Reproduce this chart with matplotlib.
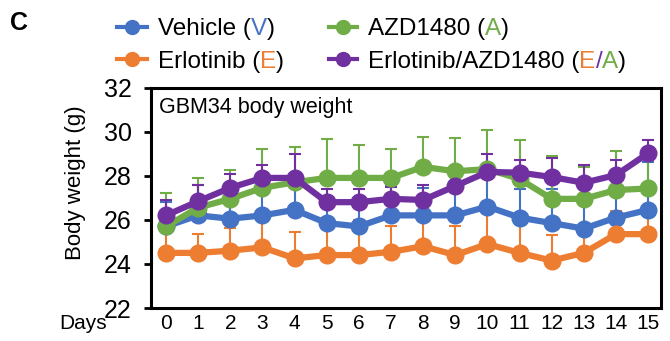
import numpy as np
import matplotlib.pyplot as plt
from matplotlib.lines import Line2D


days = list(range(16))

vehicle = [25.7, 26.2, 26.05, 26.2, 26.45, 25.85, 25.7, 26.2, 26.2, 26.2, 26.6, 26.1, 25.85, 25.6, 26.1, 26.45]
vehicle_top = [26.8, 27.6, 27.1, 27.5, 27.7, 26.9, 26.9, 27.6, 27.45, 27.45, 28.1, 27.4, 27.4, 27.6, 27.9, 28.6]

erlotinib = [24.5, 24.5, 24.6, 24.75, 24.25, 24.4, 24.4, 24.55, 24.8, 24.4, 24.9, 24.5, 24.15, 24.5, 25.35, 25.35]
erlotinib_top = [25.5, 25.35, 25.65, 26.3, 25.45, 26.0, 26.0, 25.7, 25.95, 25.7, 26.3, 25.8, 25.3, 25.6, 26.4, 26.2]

azd = [25.7, 26.55, 26.95, 27.45, 27.7, 27.9, 27.9, 27.9, 28.4, 28.2, 28.3, 27.85, 26.95, 26.95, 27.35, 27.42]
azd_top = [27.22, 27.88, 28.26, 29.2, 29.3, 29.65, 29.4, 29.23, 29.76, 29.73, 30.06, 29.62, 28.9, 28.41, 29.12, 28.9]

combo = [26.2, 26.84, 27.45, 27.9, 27.9, 26.8, 26.8, 26.95, 26.9, 27.53, 28.17, 28.14, 27.94, 27.68, 28.03, 29.02]
combo_top = [26.9, 27.6, 28.06, 28.5, 28.97, 27.4, 27.4, 27.5, 27.6, 28.2, 28.97, 28.71, 28.82, 28.47, 28.71, 29.6]

BLUE = '#4472C4'
ORANGE = '#ED7D31'
GREEN = '#70AD47'
PURPLE = '#7030A0'

plt.rcParams['font.family'] = ['Liberation Sans', 'DejaVu Sans']

W, H = 670, 341
fig = plt.figure(figsize=(W / 100, H / 100), dpi=100)
ax = fig.add_axes([151 / W, 1 - 308 / H, 510 / W, 220.5 / H])

series = [
    (vehicle, vehicle_top, BLUE),
    (erlotinib, erlotinib_top, ORANGE),
    (azd, azd_top, GREEN),
    (combo, combo_top, PURPLE),
]

for i, (mean, top, color) in enumerate(series):
    mean = np.array(mean)
    err = np.array(top) - mean
    ax.errorbar(days, mean, yerr=[np.zeros_like(err), err], fmt='none', ecolor=color,
                elinewidth=1.5, capsize=4.3, capthick=1.5, zorder=1)
for i, (mean, top, color) in enumerate(series):
    ax.plot(days, mean, '-o', color=color, lw=4.5, ms=12, zorder=3 + i)

ax.set_xlim(-0.467, 15.40)
ax.set_ylim(22, 32)
ax.set_yticks([22, 24, 26, 28, 30, 32])
ax.set_xticks(days)
ax.tick_params(axis='y', length=5, width=2, pad=9, labelsize=18, direction='out')
ax.tick_params(axis='x', length=0, pad=4.5, labelsize=15)
for sp in ax.spines.values():
    sp.set_linewidth(2.2)

# text around the axes
fig.text(159 / W, 1 - 113 / H, 'GBM34 body weight', fontsize=15.5, va='baseline')
fig.text(75.5 / W, 1 - 183 / H, 'Body weight (g)', rotation=90, ha='center', va='center', fontsize=16)
fig.text(107 / W, 1 - 314 / H, 'Days', ha='right', va='top', fontsize=15)
fig.text(10 / W, 1 - 30 / H, 'C', fontsize=18, weight='bold', va='baseline')


# legend drawn by hand so the letters in brackets can be coloured
def handle(x0, x1, y, color):
    yf = 1 - y / H
    fig.add_artist(Line2D([x0 / W, x1 / W], [yf, yf], color=color, lw=3))
    fig.add_artist(Line2D([(x0 + x1) / 2 / W], [yf], color=color, marker='o', ms=10))


def colored_text(x, y, pieces):
    s, c = pieces[0]
    t = fig.text(x / W, 1 - y / H, s, color=c, fontsize=17.5, va='baseline')
    for s, c in pieces[1:]:
        t = ax.annotate(s, xy=(1, 0), xycoords=t, va='bottom', ha='left', color=c, fontsize=17.5)


handle(117, 147, 27, BLUE)
colored_text(158, 35, [('Vehicle (', 'black'), ('V', BLUE), (')', 'black')])
handle(117, 147, 59, ORANGE)
colored_text(158, 68, [('Erlotinib (', 'black'), ('E', ORANGE), (')', 'black')])
handle(329, 357, 27, GREEN)
colored_text(368, 35, [('AZD1480 (', 'black'), ('A', GREEN), (')', 'black')])
handle(329, 357, 59, PURPLE)
colored_text(368, 68, [('Erlotinib/AZD1480 (', 'black'), ('E', ORANGE), ('/', PURPLE),
                       ('A', GREEN), (')', 'black')])

fig.savefig('out.png', dpi=100)
